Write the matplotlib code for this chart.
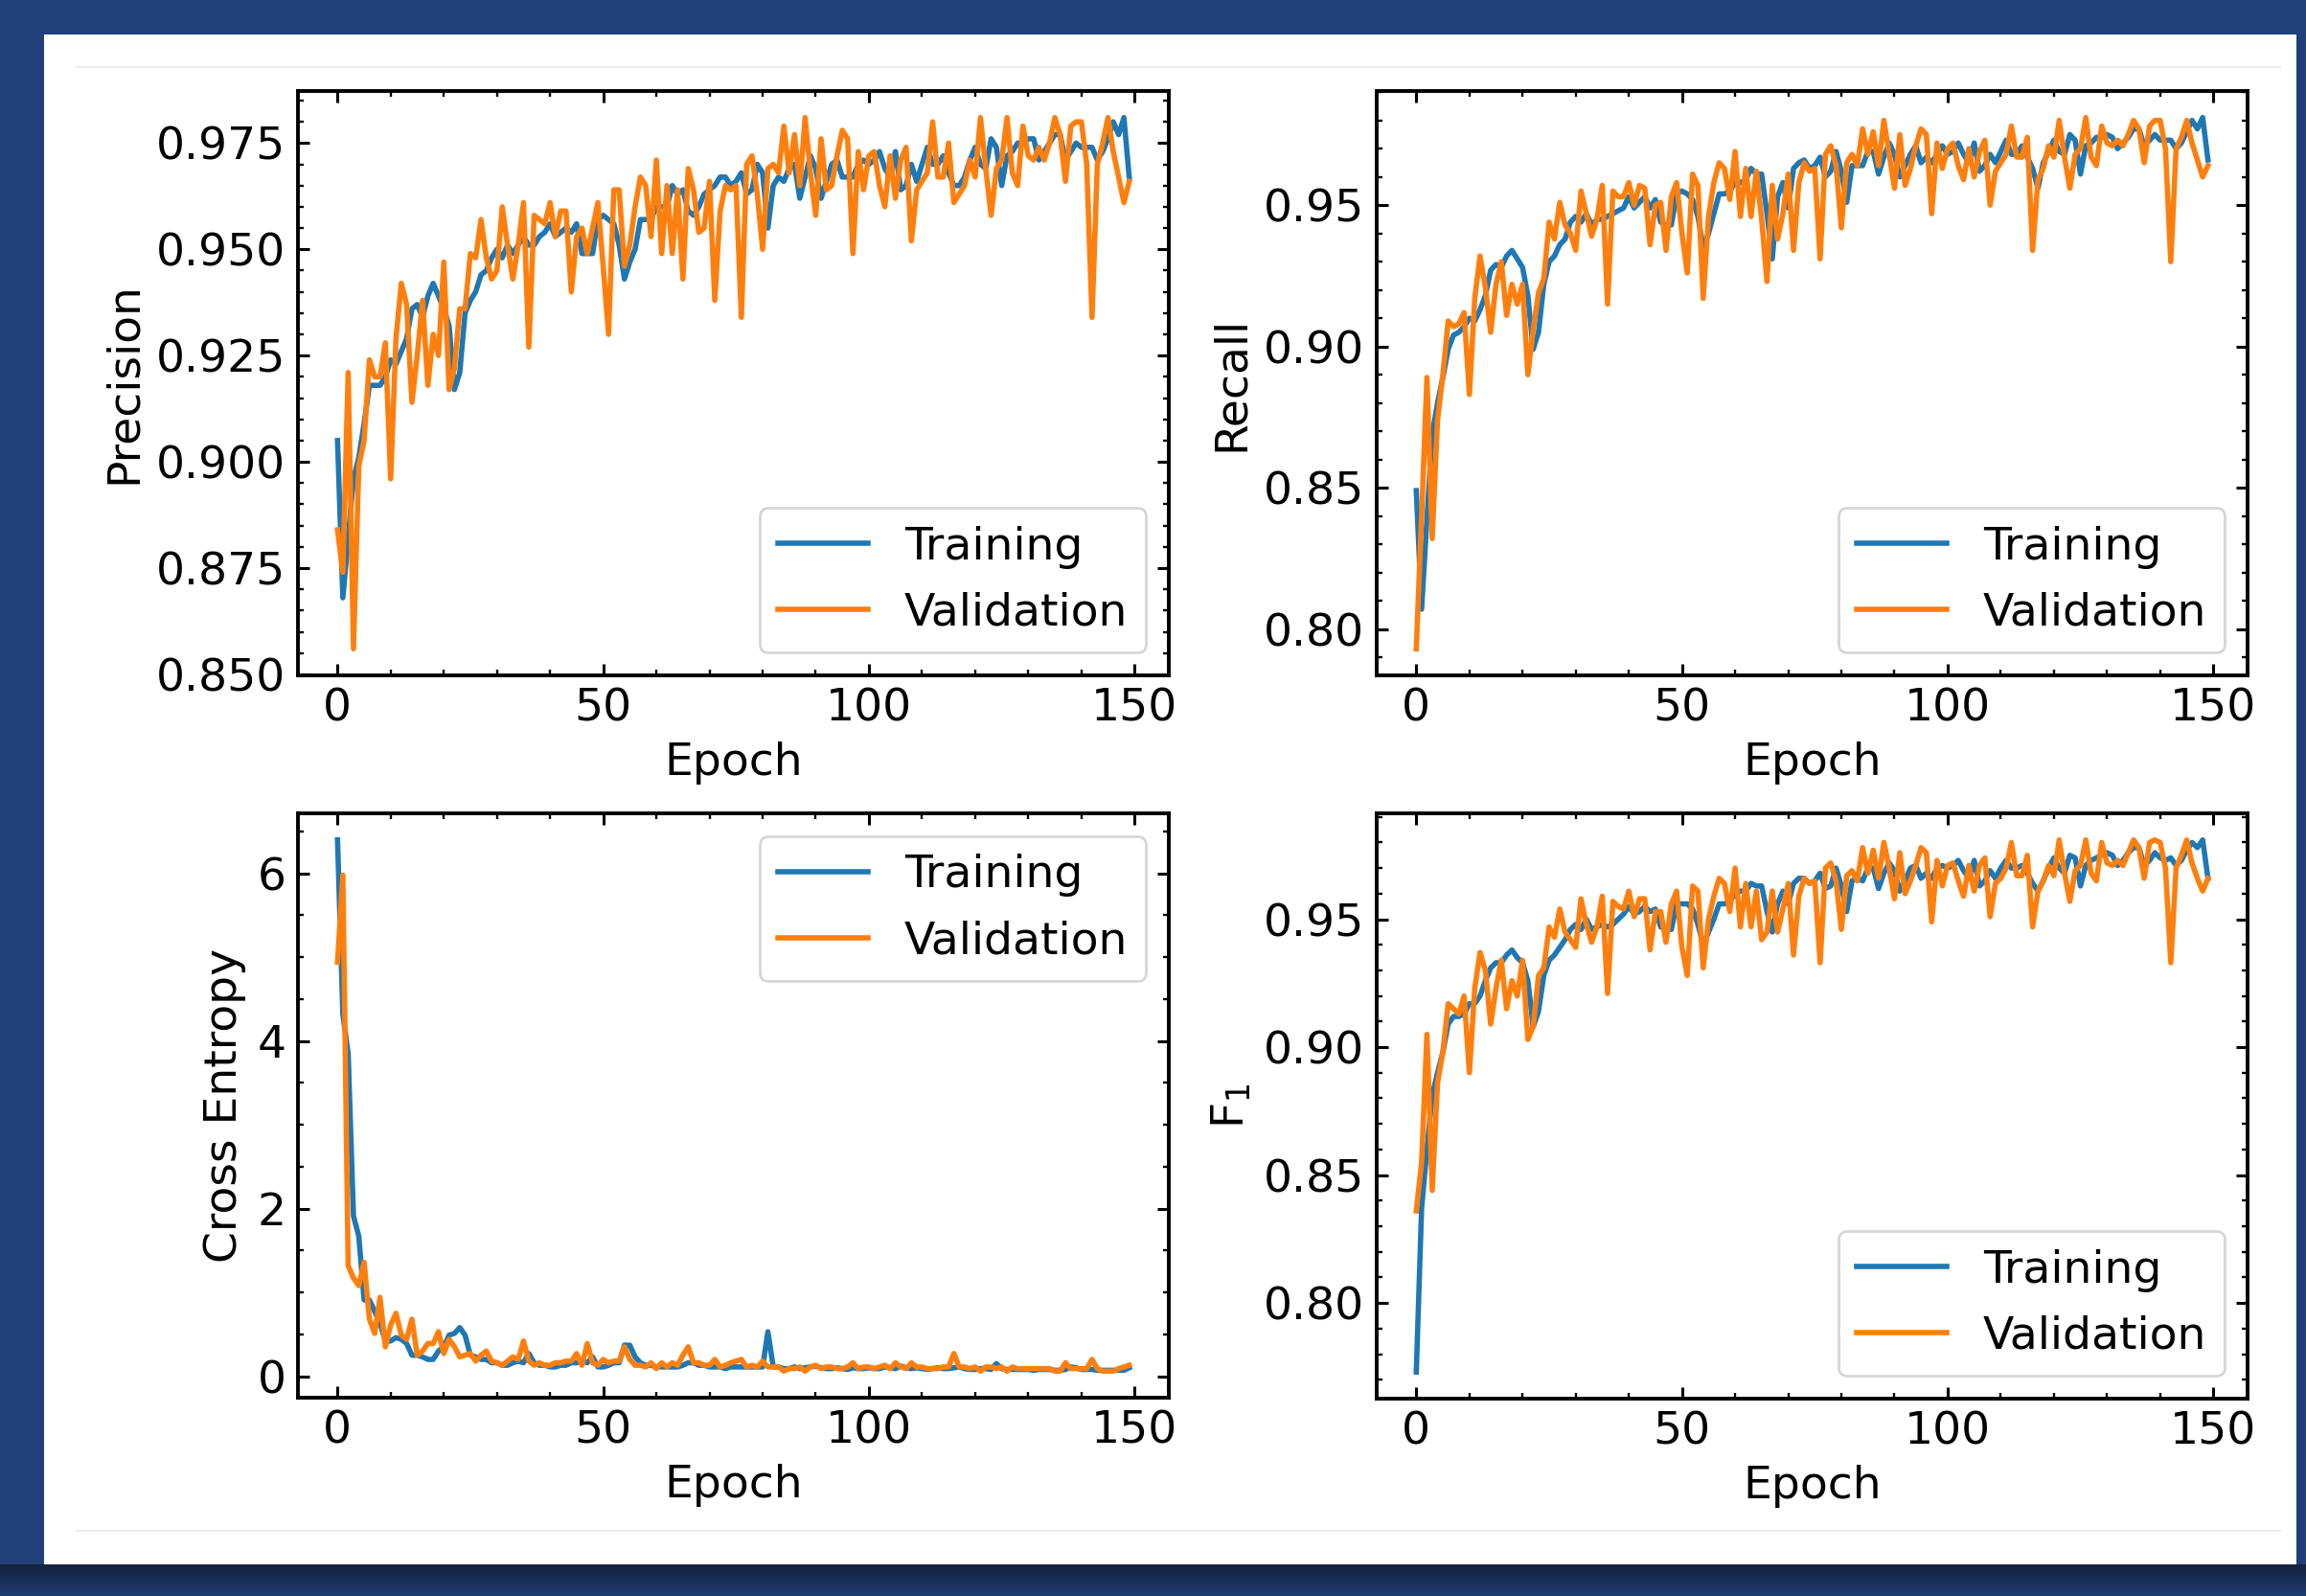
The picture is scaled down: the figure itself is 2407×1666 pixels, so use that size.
import numpy as np
import matplotlib
matplotlib.use("Agg")
from matplotlib import pyplot as plt
from matplotlib.patches import Rectangle
from matplotlib.colors import LinearSegmentedColormap
from matplotlib.ticker import MultipleLocator

# training curves, one value per epoch (0..149)
precision_train = [
    0.905, 0.868, 0.882, 0.896, 0.901, 0.909, 0.918, 0.918, 0.918, 0.920,
    0.924, 0.923, 0.926, 0.929, 0.936, 0.937, 0.934, 0.939, 0.942, 0.939,
    0.936, 0.932, 0.917, 0.921, 0.935, 0.938, 0.940, 0.944, 0.945, 0.948,
    0.950, 0.948, 0.951, 0.949, 0.951, 0.953, 0.951, 0.951, 0.953, 0.954,
    0.956, 0.953, 0.954, 0.955, 0.954, 0.956, 0.949, 0.949, 0.949, 0.957,
    0.958, 0.957, 0.956, 0.951, 0.943, 0.947, 0.950, 0.957, 0.957, 0.957,
    0.960, 0.960, 0.960, 0.965, 0.963, 0.964, 0.959, 0.958, 0.960, 0.963,
    0.964, 0.965, 0.967, 0.967, 0.965, 0.966, 0.968, 0.963, 0.964, 0.970,
    0.968, 0.955, 0.965, 0.967, 0.966, 0.969, 0.970, 0.962, 0.967, 0.972,
    0.969, 0.962, 0.966, 0.970, 0.971, 0.967, 0.967, 0.967, 0.970, 0.971,
    0.970, 0.971, 0.973, 0.969, 0.967, 0.973, 0.964, 0.965, 0.970, 0.966,
    0.970, 0.974, 0.970, 0.970, 0.972, 0.968, 0.965, 0.965, 0.967, 0.971,
    0.974, 0.970, 0.969, 0.976, 0.974, 0.965, 0.972, 0.973, 0.975, 0.975,
    0.976, 0.976, 0.971, 0.973, 0.975, 0.977, 0.977, 0.971, 0.973, 0.975,
    0.974, 0.974, 0.974, 0.971, 0.973, 0.976, 0.980, 0.977, 0.981, 0.967]
precision_val = [
    0.884, 0.874, 0.921, 0.856, 0.899, 0.905, 0.924, 0.920, 0.920, 0.928,
    0.896, 0.929, 0.942, 0.937, 0.914, 0.925, 0.938, 0.918, 0.930, 0.925,
    0.947, 0.917, 0.922, 0.936, 0.936, 0.949, 0.948, 0.957, 0.948, 0.943,
    0.945, 0.960, 0.951, 0.943, 0.951, 0.961, 0.927, 0.958, 0.957, 0.956,
    0.961, 0.953, 0.959, 0.959, 0.940, 0.953, 0.955, 0.949, 0.955, 0.961,
    0.946, 0.930, 0.964, 0.964, 0.946, 0.951, 0.960, 0.967, 0.965, 0.953,
    0.971, 0.949, 0.965, 0.949, 0.964, 0.943, 0.969, 0.964, 0.954, 0.955,
    0.966, 0.938, 0.959, 0.965, 0.964, 0.965, 0.934, 0.970, 0.972, 0.963,
    0.950, 0.969, 0.970, 0.968, 0.979, 0.968, 0.977, 0.965, 0.981, 0.968,
    0.958, 0.976, 0.964, 0.965, 0.972, 0.978, 0.976, 0.949, 0.973, 0.964,
    0.972, 0.973, 0.965, 0.960, 0.972, 0.962, 0.971, 0.974, 0.952, 0.964,
    0.966, 0.968, 0.980, 0.967, 0.967, 0.975, 0.961, 0.963, 0.965, 0.971,
    0.967, 0.981, 0.969, 0.958, 0.969, 0.971, 0.981, 0.968, 0.965, 0.979,
    0.972, 0.971, 0.974, 0.971, 0.975, 0.981, 0.977, 0.966, 0.979, 0.980,
    0.980, 0.970, 0.934, 0.970, 0.975, 0.981, 0.973, 0.967, 0.961, 0.966]

recall_train = [
    0.849, 0.807, 0.839, 0.869, 0.880, 0.889, 0.899, 0.904, 0.905, 0.907,
    0.910, 0.909, 0.913, 0.918, 0.927, 0.929, 0.928, 0.932, 0.934, 0.931,
    0.928, 0.918, 0.899, 0.905, 0.922, 0.930, 0.932, 0.936, 0.938, 0.944,
    0.946, 0.944, 0.947, 0.943, 0.945, 0.945, 0.946, 0.947, 0.948, 0.949,
    0.953, 0.949, 0.951, 0.953, 0.949, 0.952, 0.944, 0.943, 0.943, 0.954,
    0.955, 0.954, 0.952, 0.946, 0.935, 0.940, 0.947, 0.954, 0.954, 0.955,
    0.958, 0.958, 0.959, 0.963, 0.961, 0.961, 0.947, 0.931, 0.953, 0.958,
    0.949, 0.963, 0.965, 0.966, 0.963, 0.964, 0.967, 0.960, 0.962, 0.969,
    0.962, 0.951, 0.964, 0.964, 0.964, 0.969, 0.969, 0.961, 0.967, 0.972,
    0.968, 0.960, 0.964, 0.968, 0.971, 0.965, 0.967, 0.965, 0.968, 0.971,
    0.968, 0.969, 0.972, 0.968, 0.965, 0.972, 0.962, 0.964, 0.968, 0.965,
    0.969, 0.973, 0.968, 0.968, 0.971, 0.967, 0.963, 0.956, 0.965, 0.969,
    0.973, 0.969, 0.968, 0.975, 0.973, 0.961, 0.971, 0.972, 0.974, 0.974,
    0.975, 0.974, 0.970, 0.972, 0.974, 0.977, 0.977, 0.971, 0.973, 0.975,
    0.973, 0.973, 0.973, 0.970, 0.972, 0.976, 0.980, 0.977, 0.981, 0.966]
recall_val = [
    0.793, 0.840, 0.889, 0.832, 0.874, 0.890, 0.909, 0.907, 0.908, 0.912,
    0.883, 0.917, 0.932, 0.921, 0.905, 0.922, 0.930, 0.911, 0.922, 0.915,
    0.922, 0.890, 0.906, 0.919, 0.924, 0.944, 0.938, 0.951, 0.943, 0.940,
    0.934, 0.955, 0.947, 0.939, 0.945, 0.957, 0.915, 0.955, 0.953, 0.953,
    0.958, 0.950, 0.957, 0.956, 0.936, 0.950, 0.951, 0.934, 0.953, 0.958,
    0.940, 0.926, 0.961, 0.957, 0.917, 0.946, 0.958, 0.965, 0.963, 0.952,
    0.969, 0.946, 0.963, 0.946, 0.962, 0.945, 0.923, 0.957, 0.938, 0.947,
    0.961, 0.934, 0.958, 0.965, 0.962, 0.963, 0.931, 0.968, 0.971, 0.964,
    0.942, 0.965, 0.968, 0.964, 0.977, 0.968, 0.976, 0.964, 0.980, 0.968,
    0.956, 0.975, 0.957, 0.963, 0.971, 0.977, 0.975, 0.947, 0.972, 0.963,
    0.970, 0.972, 0.964, 0.959, 0.970, 0.960, 0.969, 0.973, 0.950, 0.962,
    0.965, 0.968, 0.978, 0.967, 0.967, 0.974, 0.934, 0.959, 0.963, 0.971,
    0.967, 0.980, 0.967, 0.956, 0.968, 0.970, 0.981, 0.967, 0.964, 0.978,
    0.972, 0.971, 0.973, 0.971, 0.975, 0.980, 0.977, 0.965, 0.978, 0.980,
    0.980, 0.970, 0.930, 0.970, 0.974, 0.980, 0.972, 0.966, 0.960, 0.964]

ce_train = [
    6.40, 4.32, 3.85, 1.91, 1.67, 0.91, 0.91, 0.77, 0.63, 0.42,
    0.42, 0.46, 0.44, 0.39, 0.25, 0.25, 0.23, 0.20, 0.20, 0.30,
    0.35, 0.49, 0.51, 0.58, 0.49, 0.25, 0.23, 0.20, 0.20, 0.16,
    0.16, 0.13, 0.13, 0.16, 0.18, 0.16, 0.27, 0.16, 0.13, 0.13,
    0.11, 0.11, 0.13, 0.13, 0.16, 0.16, 0.18, 0.16, 0.23, 0.11,
    0.11, 0.13, 0.16, 0.16, 0.37, 0.37, 0.23, 0.16, 0.13, 0.13,
    0.11, 0.11, 0.11, 0.11, 0.11, 0.13, 0.16, 0.16, 0.13, 0.13,
    0.11, 0.11, 0.11, 0.09, 0.11, 0.11, 0.11, 0.11, 0.11, 0.11,
    0.11, 0.53, 0.11, 0.11, 0.09, 0.09, 0.11, 0.09, 0.10, 0.11,
    0.12, 0.10, 0.09, 0.09, 0.10, 0.09, 0.08, 0.10, 0.09, 0.09,
    0.10, 0.09, 0.09, 0.11, 0.10, 0.09, 0.12, 0.10, 0.09, 0.10,
    0.09, 0.08, 0.09, 0.10, 0.09, 0.09, 0.10, 0.11, 0.09, 0.08,
    0.08, 0.09, 0.09, 0.08, 0.15, 0.09, 0.08, 0.08, 0.08, 0.08,
    0.08, 0.07, 0.08, 0.08, 0.08, 0.07, 0.07, 0.08, 0.11, 0.10,
    0.08, 0.08, 0.08, 0.07, 0.07, 0.07, 0.07, 0.07, 0.07, 0.10]
ce_val = [
    4.94, 5.98, 1.32, 1.17, 1.08, 1.36, 0.68, 0.51, 0.94, 0.35,
    0.61, 0.75, 0.49, 0.44, 0.68, 0.25, 0.30, 0.39, 0.39, 0.53,
    0.27, 0.44, 0.35, 0.23, 0.25, 0.27, 0.18, 0.25, 0.30, 0.18,
    0.16, 0.13, 0.18, 0.23, 0.20, 0.42, 0.18, 0.13, 0.16, 0.13,
    0.13, 0.16, 0.16, 0.18, 0.18, 0.27, 0.13, 0.39, 0.16, 0.13,
    0.20, 0.16, 0.18, 0.18, 0.35, 0.20, 0.13, 0.13, 0.11, 0.16,
    0.09, 0.16, 0.11, 0.16, 0.13, 0.25, 0.35, 0.16, 0.16, 0.13,
    0.13, 0.20, 0.11, 0.13, 0.16, 0.18, 0.20, 0.11, 0.13, 0.11,
    0.18, 0.11, 0.11, 0.11, 0.06, 0.09, 0.09, 0.11, 0.06, 0.11,
    0.13, 0.09, 0.11, 0.11, 0.09, 0.09, 0.11, 0.16, 0.09, 0.11,
    0.11, 0.09, 0.11, 0.13, 0.09, 0.16, 0.11, 0.09, 0.16, 0.11,
    0.11, 0.09, 0.09, 0.09, 0.11, 0.11, 0.27, 0.11, 0.11, 0.09,
    0.11, 0.06, 0.11, 0.11, 0.09, 0.11, 0.06, 0.11, 0.09, 0.09,
    0.09, 0.09, 0.09, 0.09, 0.09, 0.06, 0.06, 0.16, 0.09, 0.09,
    0.09, 0.09, 0.20, 0.09, 0.06, 0.06, 0.06, 0.09, 0.11, 0.13]

f1_train = [
    0.773, 0.837, 0.860, 0.881, 0.890, 0.898, 0.909, 0.912, 0.912, 0.913,
    0.917, 0.917, 0.920, 0.926, 0.931, 0.933, 0.933, 0.936, 0.938, 0.935,
    0.933, 0.926, 0.908, 0.914, 0.928, 0.934, 0.936, 0.939, 0.942, 0.946,
    0.948, 0.946, 0.950, 0.946, 0.947, 0.948, 0.947, 0.948, 0.950, 0.952,
    0.955, 0.952, 0.953, 0.955, 0.953, 0.954, 0.947, 0.946, 0.946, 0.956,
    0.956, 0.956, 0.954, 0.948, 0.940, 0.945, 0.950, 0.956, 0.956, 0.957,
    0.960, 0.961, 0.961, 0.964, 0.963, 0.963, 0.953, 0.945, 0.956, 0.961,
    0.956, 0.964, 0.966, 0.966, 0.964, 0.965, 0.968, 0.962, 0.963, 0.970,
    0.963, 0.953, 0.965, 0.966, 0.965, 0.970, 0.970, 0.962, 0.968, 0.972,
    0.969, 0.961, 0.965, 0.970, 0.971, 0.966, 0.968, 0.966, 0.970, 0.971,
    0.970, 0.971, 0.973, 0.969, 0.966, 0.973, 0.963, 0.965, 0.969, 0.966,
    0.970, 0.973, 0.970, 0.970, 0.971, 0.968, 0.964, 0.961, 0.965, 0.970,
    0.974, 0.970, 0.968, 0.975, 0.974, 0.963, 0.971, 0.973, 0.974, 0.975,
    0.976, 0.975, 0.971, 0.973, 0.976, 0.978, 0.978, 0.971, 0.973, 0.976,
    0.974, 0.973, 0.974, 0.971, 0.973, 0.977, 0.980, 0.978, 0.981, 0.966]
f1_val = [
    0.836, 0.855, 0.905, 0.844, 0.886, 0.898, 0.917, 0.915, 0.913, 0.920,
    0.890, 0.923, 0.937, 0.930, 0.909, 0.923, 0.934, 0.915, 0.926, 0.920,
    0.934, 0.903, 0.908, 0.928, 0.931, 0.947, 0.943, 0.954, 0.945, 0.942,
    0.939, 0.958, 0.948, 0.941, 0.947, 0.959, 0.921, 0.957, 0.955, 0.954,
    0.961, 0.951, 0.958, 0.958, 0.938, 0.953, 0.953, 0.941, 0.956, 0.961,
    0.939, 0.928, 0.963, 0.961, 0.931, 0.950, 0.959, 0.966, 0.964, 0.953,
    0.970, 0.947, 0.964, 0.947, 0.961, 0.942, 0.945, 0.961, 0.945, 0.954,
    0.964, 0.936, 0.959, 0.966, 0.964, 0.965, 0.933, 0.970, 0.972, 0.965,
    0.946, 0.967, 0.969, 0.965, 0.978, 0.968, 0.977, 0.966, 0.980, 0.970,
    0.958, 0.976, 0.960, 0.965, 0.971, 0.978, 0.976, 0.949, 0.973, 0.963,
    0.971, 0.972, 0.965, 0.959, 0.971, 0.961, 0.971, 0.974, 0.951, 0.964,
    0.966, 0.970, 0.980, 0.967, 0.967, 0.975, 0.947, 0.961, 0.965, 0.971,
    0.967, 0.981, 0.968, 0.957, 0.969, 0.971, 0.981, 0.968, 0.965, 0.980,
    0.972, 0.971, 0.973, 0.971, 0.976, 0.981, 0.978, 0.966, 0.980, 0.981,
    0.980, 0.970, 0.933, 0.970, 0.975, 0.981, 0.972, 0.966, 0.961, 0.966]

epochs = np.arange(len(precision_train))

plt.rcParams.update({
    "font.family": "DejaVu Sans",
    "font.size": 34,
    "xtick.direction": "in", "ytick.direction": "in",
    "xtick.top": True, "ytick.right": True,
    "xtick.minor.visible": True, "ytick.minor.visible": True,
    "xtick.major.size": 8.5, "ytick.major.size": 8.5,
    "xtick.minor.size": 4.5, "ytick.minor.size": 4.5,
    "xtick.major.width": 2.2, "ytick.major.width": 2.2,
    "xtick.minor.width": 1.7, "ytick.minor.width": 1.7,
    "xtick.major.pad": 9, "ytick.major.pad": 9,
    "axes.linewidth": 2.8,
    "lines.linewidth": 4.0,
    "axes.labelpad": 8,
    "legend.edgecolor": "0.8",
})

W, H = 2407, 1666
fig = plt.figure(figsize=(W / 100, H / 100), dpi=100, facecolor="#21407a")

# slide background: white card on a blue page
bg = fig.add_axes([0, 0, 1, 1])
shade = LinearSegmentedColormap.from_list("shade", ["#13233f", "#1f3b70"])
bg.imshow(np.linspace(0, 1, 50).reshape(-1, 1), cmap=shade, aspect="auto",
          extent=(0, W, H, 1633), origin="upper")
bg.add_patch(Rectangle((46, 36), 2351, 1597, facecolor="white", edgecolor="none"))
bg.plot([80, 2380], [70, 70], color="#ececec", lw=1.5)
bg.plot([80, 2380], [1598, 1598], color="#ececec", lw=1.5)
bg.set_xlim(0, W)
bg.set_ylim(H, 0)
bg.axis("off")


def px_axes(left, top, right, bottom):
    return fig.add_axes([left / W, 1 - bottom / H, (right - left) / W, (bottom - top) / H])


panels = [
    (px_axes(311, 95, 1220, 705), precision_train, precision_val, "Precision", 0.025, "lower right"),
    (px_axes(1437, 95, 2346, 705), recall_train, recall_val, "Recall", 0.05, "lower right"),
    (px_axes(311, 849, 1220, 1459), ce_train, ce_val, "Cross Entropy", 2, "upper right"),
    (px_axes(1437, 849, 2346, 1460), f1_train, f1_val, "F$_1$", 0.05, "lower right"),
]

for ax, tr, va, name, ystep, loc in panels:
    ax.plot(epochs, tr, color="#1f77b4", label="Training")
    ax.plot(epochs, va, color="#ff7f0e", label="Validation")
    ax.xaxis.set_major_locator(MultipleLocator(50))
    ax.yaxis.set_major_locator(MultipleLocator(ystep))
    ax.set_xlabel("Epoch")
    ax.set_ylabel(name)
    leg = ax.legend(loc=loc)
    leg.get_frame().set_linewidth(2.0)

fig.savefig("out.png", dpi=100, facecolor=fig.get_facecolor())
